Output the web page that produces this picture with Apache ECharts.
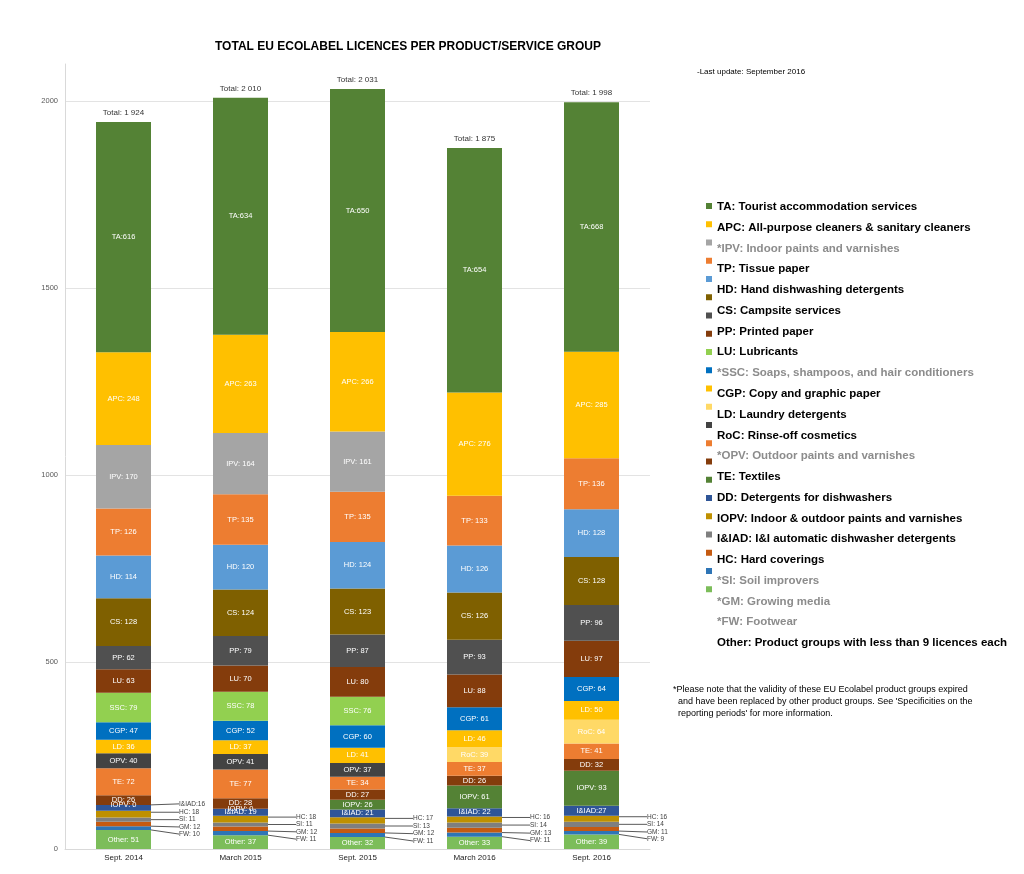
<!DOCTYPE html>
<html>
<head>
<meta charset="utf-8">
<script src="https://cdn.jsdelivr.net/npm/echarts/dist/echarts.min.js"></script>
<style>html,body{margin:0;padding:0;background:#fff;}#c{width:1024px;height:874px;}</style>
</head>
<body>
<div id="c"></div>
<script>
// ---- data ----
var categories = ['Sept. 2014', 'March 2015', 'Sept. 2015', 'March 2016', 'Sept. 2016'];
var totals = [1924, 2010, 2031, 1875, 1998];
// legend order (top of stack first)
var codes = ['TA','APC','IPV','TP','HD','CS','PP','LU','SSC','CGP','LD','RoC','OPV','TE','DD','IOPV','I&IAD','HC','SI','GM','FW','Other'];
var TA   = [616, 634, 650, 654, 668];
var APC  = [248, 263, 266, 276, 285];
var IPV  = [170, 164, 161, null, null];
var TP   = [126, 135, 135, 133, 136];
var HD   = [114, 120, 124, 126, 128];
var CS   = [128, 124, 123, 126, 128];
var PP   = [62, 79, 87, 93, 96];
var LU   = [63, 70, 80, 88, 97];
var SSC  = [79, 78, 76, null, null];
var CGP  = [47, 52, 60, 61, 64];
var LD   = [36, 37, 41, 46, 50];
var RoC  = [null, null, null, 39, 64];
var OPV  = [40, 41, 37, null, null];
var TE   = [72, 77, 34, 37, 41];
var DD   = [26, 28, 27, 26, 32];
var IOPV = [0, 0, 26, 61, 93];
var IIAD = [16, 19, 21, 22, 27];
var HC   = [18, 18, 17, 16, 16];
var SI   = [11, 11, 13, 14, 14];
var GM   = [12, 12, 12, 13, 11];
var FW   = [10, 11, 11, 11, 9];
var Other = [51, 37, 32, 33, 39];
var legendTexts = {
  'TA': 'TA: Tourist accommodation services',
  'APC': 'APC: All-purpose cleaners & sanitary cleaners',
  'IPV': '*IPV: Indoor paints and varnishes',
  'TP': 'TP: Tissue paper',
  'HD': 'HD: Hand dishwashing detergents',
  'CS': 'CS: Campsite services',
  'PP': 'PP: Printed paper',
  'LU': 'LU: Lubricants',
  'SSC': '*SSC: Soaps, shampoos, and hair conditioners',
  'CGP': 'CGP: Copy and graphic paper',
  'LD': 'LD: Laundry detergents',
  'RoC': 'RoC: Rinse-off cosmetics',
  'OPV': '*OPV: Outdoor paints and varnishes',
  'TE': 'TE: Textiles',
  'DD': 'DD: Detergents for dishwashers',
  'IOPV': 'IOPV: Indoor & outdoor paints and varnishes',
  'I&IAD': 'I&IAD: I&I automatic dishwasher detergents',
  'HC': 'HC: Hard coverings',
  'SI': '*SI: Soil improvers',
  'GM': '*GM: Growing media',
  'FW': '*FW: Footwear',
  'Other': 'Other: Product groups with less than 9 licences each'
};
var values = {TA:TA, APC:APC, IPV:IPV, TP:TP, HD:HD, CS:CS, PP:PP, LU:LU, SSC:SSC, CGP:CGP, LD:LD, RoC:RoC, OPV:OPV, TE:TE, DD:DD, IOPV:IOPV, 'I&IAD':IIAD, HC:HC, SI:SI, GM:GM, FW:FW, Other:Other};

// ---- styles ----
var colors = {
  'TA':'#548235','APC':'#FFC000','IPV':'#A5A5A5','TP':'#ED7D31','HD':'#5B9BD5','CS':'#7F6000',
  'PP':'#505050','LU':'#843C0C','SSC':'#92D050','CGP':'#0070C0','LD':'#FFC000','RoC':'#FFD966',
  'OPV':'#434343','TE':'#ED7D31','DD':'#843C0C','IOPV':'#548235','I&IAD':'#2F5597','HC':'#BF9000',
  'SI':'#7F7F7F','GM':'#C55A11','FW':'#2E75B6','Other':'#7CBD5A'
};
var grayLegend = {'IPV':1,'SSC':1,'OPV':1,'SI':1,'GM':1,'FW':1};
var outside = {'HC':-2,'SI':0,'GM':3,'FW':6};
var FONT = "'Liberation Sans', Arial, sans-serif";

function fmtLabel(code, v, idx) {
  if (code === 'TA') return 'TA:' + v;
  if (code === 'I&IAD' && (idx === 0 || idx === 4)) return 'I&IAD:' + v;
  return code + ': ' + v;
}
var outLabel = {position: 'right', distance: 28, color: '#404040', fontSize: 6.5};

var series = [];
codes.slice().reverse().forEach(function (code) {
  var isOut = outside.hasOwnProperty(code);
  var data = values[code].map(function (v, i) {
    if (code === 'I&IAD' && i === 0) {
      return {value: v, label: outLabel, labelLine: {show: true, lineStyle: {color: '#595959', width: 1}}};
    }
    return v;
  });
  var s = {
    name: code,
    type: 'bar',
    stack: 'all',
    barWidth: 55,
    data: data,
    itemStyle: {color: colors[code]},
    label: {
      show: true,
      position: 'inside',
      color: '#fff',
      fontSize: 7.5,
      fontFamily: FONT,
      formatter: function (p) { return fmtLabel(code, p.value, p.dataIndex); }
    }
  };
  if (isOut) {
    s.label.position = 'right';
    s.label.distance = 28;
    s.label.color = '#404040';
    s.label.fontSize = 6.5;
    s.labelLine = {show: true, lineStyle: {color: '#595959', width: 1}};
    var dy = outside[code];
    s.labelLayout = function () { return {dy: dy}; };
  }
  if (code === 'I&IAD') {
    s.labelLayout = function (p) { return p.dataIndex === 0 ? {dy: -4} : {}; };
  }
  series.push(s);
});
series.push({
  name: 'Total',
  type: 'bar',
  stack: 'all',
  barWidth: 55,
  silent: true,
  data: totals.map(function () { return 0; }),
  itemStyle: {color: 'rgba(0,0,0,0)'},
  label: {
    show: true, position: 'top', distance: 5, color: '#333', fontSize: 8, fontFamily: FONT,
    formatter: function (p) {
      return 'Total: ' + String(totals[p.dataIndex]).replace(/\B(?=(\d{3})+(?!\d))/g, ' ');
    }
  }
});

var chart = echarts.init(document.getElementById('c'), null, {renderer: 'canvas'});
chart.setOption({
  animation: false,
  backgroundColor: '#fff',
  textStyle: {fontFamily: FONT},
  title: [
    {text: 'TOTAL EU ECOLABEL LICENCES PER PRODUCT/SERVICE GROUP', left: 215, top: 41, padding: 0,
     textStyle: {fontSize: 12, fontWeight: 'bold', color: '#000', fontFamily: FONT}},
    {text: '-Last update: September 2016', left: 697, top: 68, padding: 0,
     textStyle: {fontSize: 8, fontWeight: 'normal', color: '#000', fontFamily: FONT}}
  ],
  grid: {left: 65, right: 374, top: 64, bottom: 25, containLabel: false},
  xAxis: {
    type: 'category', data: categories,
    axisLine: {lineStyle: {color: '#d9d9d9'}},
    axisTick: {show: false},
    axisLabel: {fontSize: 8, color: '#222', margin: 5, fontFamily: FONT}
  },
  yAxis: {
    type: 'value', min: 0, max: 2100, interval: 500,
    axisLine: {show: true, lineStyle: {color: '#d9d9d9'}},
    axisTick: {show: false},
    axisLabel: {fontSize: 7.5, color: '#595959', margin: 7, showMaxLabel: false, fontFamily: FONT,
      formatter: function (v) { return String(v); }},
    splitLine: {show: true, showMaxLine: false, lineStyle: {color: '#e3e3e3'}}
  },
  legend: [
    {
      data: codes, orient: 'vertical', left: 706, top: 203, padding: 0,
      icon: 'rect', itemWidth: 6, itemHeight: 6, itemGap: 12.25,
      formatter: function () { return ''; },
      textStyle: {fontSize: 6, lineHeight: 6},
      selectedMode: false
    },
    {
      data: codes.map(function (c) {
        return {name: c, textStyle: {color: grayLegend[c] ? '#8c8c8c' : '#000'}};
      }),
      orient: 'vertical', left: 712, top: 196.6, padding: 0,
      icon: 'none', itemWidth: 0, itemHeight: 0, itemGap: 0,
      formatter: function (n) { return legendTexts[n]; },
      textStyle: {fontSize: 11.5, fontWeight: 'bold', lineHeight: 20.76, fontFamily: FONT},
      selectedMode: false
    }
  ],
  graphic: [
    {type: 'text', left: 673, top: 684, style: {
      text: "*Please note that the validity of these EU Ecolabel product groups expired\n  and have been replaced by other product groups. See 'Specificities on the\n  reporting periods' for more information.",
      fontSize: 9, lineHeight: 12, fill: '#000', fontFamily: FONT}}
  ],
  series: series
});
</script>
</body>
</html>
